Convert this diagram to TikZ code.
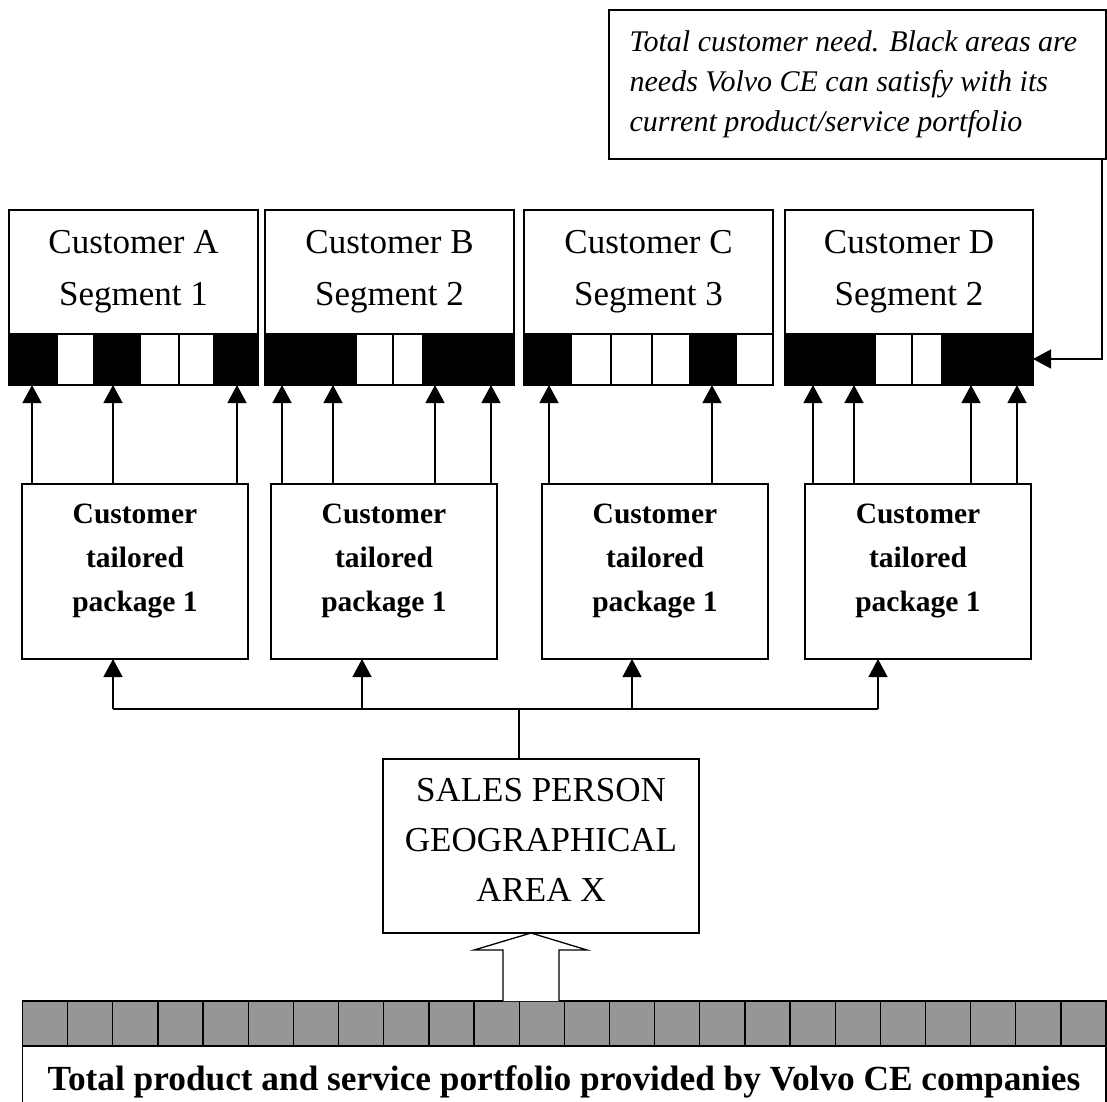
\documentclass[tikz,border=0pt]{standalone}
\usepackage{fontspec}
\setmainfont{Liberation Serif}
\usetikzlibrary{arrows.meta,calc}
\definecolor{portgray}{RGB}{150,150,150}

\begin{document}
\begin{tikzpicture}[x=1pt,y=-1pt,
  line width=1.3pt,
  box/.style={draw, inner sep=0pt, outer sep=0pt, anchor=north west},
  hdrtext/.style={align=center, font=\fontsize{35}{52}\selectfont},
  pkgtext/.style={align=center, font=\fontsize{29.5}{44}\selectfont\bfseries},
  salestext/.style={align=center, font=\fontsize{35}{50}\selectfont},
  notetext/.style={align=left, inner sep=0pt, font=\fontsize{30}{40}\selectfont\itshape},
  porttext/.style={font=\fontsize{35.3}{40}\selectfont\bfseries},
  tip/.style={-{Triangle[length=18pt,width=19pt]}},
  ]
\useasboundingbox (0,0) rectangle (1107,1101);

% customer boxes with their need strips
\foreach \n/\xl/\xr/\seg in {A/9/258/1, B/265/514/2, C/524/773/3, D/785/1033/2} {
  \node[box, minimum width={\xr-\xl}, minimum height=124] (hdr\n) at (\xl,210) {};
  \node[hdrtext] (hdrtxt\n) at (hdr\n.center) {Customer \n\\Segment \seg};
  \node[box, minimum width={\xr-\xl}, minimum height=51] (strip\n) at (\xl,334) {};
}
% need cells: black = satisfied by the current portfolio
\foreach \a/\b/\c in {9/57/black, 57/94/white, 94/140/black, 140/179/white, 179/214/white, 214/258/black,
  265/356/black, 356/393/white, 393/423/white, 423/514/black,
  524/571/black, 571/611/white, 611/652/white, 652/690/white, 690/736/black, 736/773/white,
  785/875/black, 875/912/white, 912/942/white, 942/1033/black}
  \draw[fill=\c] (\a,334) rectangle (\b,385);

% customer tailored packages
\foreach \n/\xl in {A/22, B/271, C/542, D/805} {
  \node[box, minimum width=226, minimum height=175] (pkg\n) at (\xl,484) {};
  \node[pkgtext] (pkgtxt\n) at ($(pkg\n.center)+(0,-10.5)$) {Customer\\tailored\\package 1};
}

% packages serve the needs
\foreach \n/\xs in {A/{32,113,237}, B/{282,333,435,491}, C/{549,712}, D/{813,854,971,1017}} {
  \foreach \x in \xs {
    \coordinate (t) at (\x,0);
    \draw[tip] (t |- pkg\n.north) -- (t |- strip\n.south);
  }
}

% sales person
\node[box, minimum width=316, minimum height=174] (sales) at (383,759) {};
\node[salestext] (salestxt) at ($(sales.center)+(0,-6)$) {SALES PERSON\\GEOGRAPHICAL\\AREA X};

% distribution bus from the sales person to the packages
\coordinate (bus) at (519,709);
\coordinate (fA) at (113,0);
\coordinate (fB) at (362,0);
\coordinate (fC) at (632,0);
\coordinate (fD) at (878,0);
\draw (bus |- sales.north) -- (bus);
\draw (fA |- bus) -- (fD |- bus);
\foreach \n in {A,B,C,D}
  \draw[tip] (f\n |- bus) -- (f\n |- pkg\n.south);

% total portfolio strip
\node[box, minimum width=1083.5, minimum height=45] (portstrip) at (22.5,1001) {};
\foreach \i in {0,...,23}
  \draw[fill=portgray] ({22.5+45.15*\i},1001) rectangle ({22.5+45.15*(\i+1)},1046);
\draw (22.5,1104) -- (portstrip.south west) -- (portstrip.south east) -- (1106,1104);
\node[porttext] (port) at (564,1082) {Total product and service portfolio provided by Volvo CE companies};

% hollow arrow from the portfolio to the sales person
\coordinate (h) at (531,0);
\draw[fill=white] (503,0 |- portstrip.north) -- (503,950) -- (474,950) -- (h |- sales.south)
  -- (587,950) -- (559,950) -- (559,0 |- portstrip.north);

% explanatory note
\node[box, minimum width=497, minimum height=149] (note) at (609,10) {};
\node[notetext, anchor=north west] (notetxt) at (629,30)
  {Total customer need. Black areas are\\needs Volvo CE can satisfy with its\\current product/service portfolio};
\coordinate (c) at (1102,359);
\draw[tip] (c |- note.south) -- (c) -- (c -| stripD.east);
\end{tikzpicture}
\end{document}
